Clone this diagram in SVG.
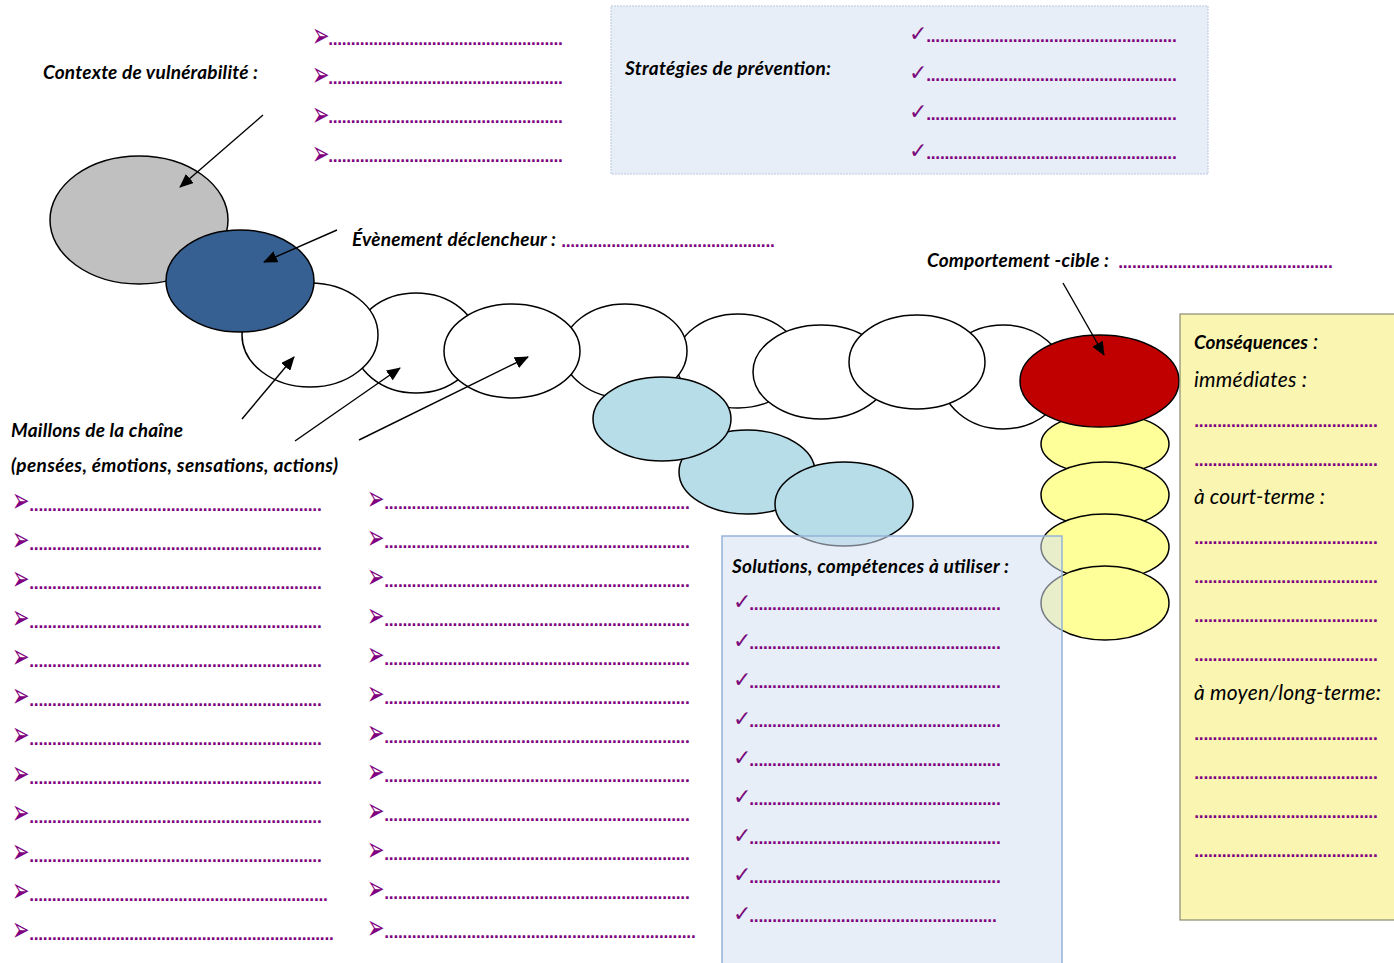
<svg xmlns="http://www.w3.org/2000/svg" width="1394" height="963" viewBox="0 0 1394 963">
  <style>
    .lbl { font-family: Lato, "Open Sans", "DejaVu Sans", sans-serif; font-weight: bold; font-style: italic; font-size: 19px; fill: #000; }
    .it { font-family: Lato, "Open Sans", "DejaVu Sans", sans-serif; font-style: italic; font-size: 21px; fill: #000; }
    .dots { font-family: "DejaVu Sans", sans-serif; font-weight: bold; font-size: 14px; fill: #800080; }
    .bul { font-family: "DejaVu Sans", sans-serif; font-size: 19px; fill: #800080; }
    .chk { font-family: "DejaVu Sans", sans-serif; font-size: 22px; fill: #7a0a7a; }
    .ring { stroke: #000; stroke-width: 1.5; }
    .white { fill: #fff; }
    .lightblue { fill: #b7dde8; }
    .yellow { fill: #ffff99; }
    .arrow { stroke: #000; stroke-width: 1.4; fill: none; marker-end: url(#head); }
  </style>
  <defs>
    <marker id="head" markerUnits="userSpaceOnUse" markerWidth="14" markerHeight="12" refX="13" refY="6" orient="auto">
      <path d="M0,0 L14,6 L0,12 z" fill="#000"/>
    </marker>
  </defs>

  <rect width="1394" height="963" fill="#fff"/>

  <!-- prevention strategies panel -->
  <g id="strategies">
    <rect x="611" y="6" width="597" height="168" fill="#e8eef7" stroke="#b8c7dd" stroke-width="1" stroke-dasharray="2 1"/>
    <text class="lbl" x="625" y="75" textLength="206" lengthAdjust="spacing">Stratégies de prévention:</text>
    <text class="chk" x="909" y="41">✓</text>
    <text class="dots" x="926" y="42" textLength="251" lengthAdjust="spacing">.......................................................</text>
    <text class="chk" x="909" y="80">✓</text>
    <text class="dots" x="926" y="81" textLength="251" lengthAdjust="spacing">.......................................................</text>
    <text class="chk" x="909" y="119">✓</text>
    <text class="dots" x="926" y="120" textLength="251" lengthAdjust="spacing">.......................................................</text>
    <text class="chk" x="909" y="158">✓</text>
    <text class="dots" x="926" y="159" textLength="251" lengthAdjust="spacing">.......................................................</text>
  </g>

  <!-- vulnerability context; bullets are stretched vertically around their centre -->
  <g id="context">
    <text class="lbl" x="43" y="79" textLength="215" lengthAdjust="spacing">Contexte de vulnérabilité :</text>
    <text class="bul" transform="translate(312,38) scale(1.1,1.8)" y="4.75">➢</text>
    <text class="dots" x="328" y="45" textLength="235" lengthAdjust="spacing">....................................................</text>
    <text class="bul" transform="translate(312,77) scale(1.1,1.8)" y="4.75">➢</text>
    <text class="dots" x="328" y="84" textLength="235" lengthAdjust="spacing">....................................................</text>
    <text class="bul" transform="translate(312,117) scale(1.1,1.8)" y="4.75">➢</text>
    <text class="dots" x="328" y="123" textLength="235" lengthAdjust="spacing">....................................................</text>
    <text class="bul" transform="translate(312,156) scale(1.1,1.8)" y="4.75">➢</text>
    <text class="dots" x="328" y="162" textLength="235" lengthAdjust="spacing">....................................................</text>
  </g>

  <g id="trigger-label">
    <text class="lbl" x="352" y="246" textLength="204" lengthAdjust="spacing">Évènement déclencheur :</text>
    <text class="dots" x="561" y="247" textLength="214" lengthAdjust="spacing">...............................................</text>
  </g>

  <g id="target-label">
    <text class="lbl" x="927" y="267" textLength="182" lengthAdjust="spacing">Comportement -cible :</text>
    <text class="dots" x="1118" y="268" textLength="215" lengthAdjust="spacing">...............................................</text>
  </g>

  <!-- chain of ellipses, back to front -->
  <g id="vulnerability-node"><ellipse class="ring" cx="139" cy="220" rx="89" ry="64" fill="#c0c0c0"/></g>
  <g id="link-8"><ellipse class="ring white" cx="1003" cy="377" rx="62" ry="52"/></g>
  <g id="link-5"><ellipse class="ring white" cx="738" cy="361" rx="62" ry="47"/></g>
  <g id="link-2"><ellipse class="ring white" cx="416" cy="343" rx="62" ry="50"/></g>
  <g id="link-4"><ellipse class="ring white" cx="625" cy="351" rx="62" ry="47"/></g>
  <g id="link-6"><ellipse class="ring white" cx="821" cy="372" rx="68" ry="47"/></g>
  <g id="link-7"><ellipse class="ring white" cx="917" cy="362" rx="68" ry="47"/></g>
  <g id="link-3"><ellipse class="ring white" cx="512" cy="351" rx="68" ry="47"/></g>
  <g id="link-1"><ellipse class="ring white" cx="310" cy="335" rx="68" ry="52"/></g>
  <g id="trigger-node"><ellipse class="ring" cx="240" cy="281" rx="74" ry="51" fill="#376092"/></g>

  <g id="solution-2"><ellipse class="ring lightblue" cx="747" cy="472" rx="68" ry="42"/></g>
  <g id="solution-1"><ellipse class="ring lightblue" cx="662" cy="419" rx="69" ry="42"/></g>
  <g id="solution-3"><ellipse class="ring lightblue" cx="844" cy="504" rx="69" ry="42"/></g>

  <g id="consequence-1"><ellipse class="ring yellow" cx="1105" cy="444" rx="64" ry="31"/></g>
  <g id="consequence-2"><ellipse class="ring yellow" cx="1105" cy="495" rx="64" ry="33"/></g>
  <g id="consequence-3"><ellipse class="ring yellow" cx="1105" cy="547" rx="64" ry="33"/></g>
  <g id="consequence-4"><ellipse class="ring yellow" cx="1105" cy="603" rx="64" ry="37"/></g>
  <g id="target-node"><ellipse class="ring" cx="1099.5" cy="381" rx="79.5" ry="46" fill="#c00000"/></g>

  <!-- chain links label and answer lines -->
  <g id="links-label">
    <text class="lbl" x="11" y="437" textLength="172" lengthAdjust="spacing">Maillons de la chaîne</text>
    <text class="lbl" x="11" y="472" textLength="327" lengthAdjust="spacing">(pensées, émotions, sensations, actions)</text>
  </g>
  <g id="links-left">
    <text class="bul" transform="translate(12,503) scale(1.1,1.8)" y="4.75">➢</text><text class="dots" x="29" y="511" textLength="293" lengthAdjust="spacing">................................................................</text>
    <text class="bul" transform="translate(12,542) scale(1.1,1.8)" y="4.75">➢</text><text class="dots" x="29" y="550" textLength="293" lengthAdjust="spacing">................................................................</text>
    <text class="bul" transform="translate(12,581) scale(1.1,1.8)" y="4.75">➢</text><text class="dots" x="29" y="589" textLength="293" lengthAdjust="spacing">................................................................</text>
    <text class="bul" transform="translate(12,620) scale(1.1,1.8)" y="4.75">➢</text><text class="dots" x="29" y="628" textLength="293" lengthAdjust="spacing">................................................................</text>
    <text class="bul" transform="translate(12,659) scale(1.1,1.8)" y="4.75">➢</text><text class="dots" x="29" y="667" textLength="293" lengthAdjust="spacing">................................................................</text>
    <text class="bul" transform="translate(12,698) scale(1.1,1.8)" y="4.75">➢</text><text class="dots" x="29" y="706" textLength="293" lengthAdjust="spacing">................................................................</text>
    <text class="bul" transform="translate(12,737) scale(1.1,1.8)" y="4.75">➢</text><text class="dots" x="29" y="745" textLength="293" lengthAdjust="spacing">................................................................</text>
    <text class="bul" transform="translate(12,776) scale(1.1,1.8)" y="4.75">➢</text><text class="dots" x="29" y="784" textLength="293" lengthAdjust="spacing">................................................................</text>
    <text class="bul" transform="translate(12,815) scale(1.1,1.8)" y="4.75">➢</text><text class="dots" x="29" y="823" textLength="293" lengthAdjust="spacing">................................................................</text>
    <text class="bul" transform="translate(12,854) scale(1.1,1.8)" y="4.75">➢</text><text class="dots" x="29" y="862" textLength="293" lengthAdjust="spacing">................................................................</text>
    <text class="bul" transform="translate(12,893) scale(1.1,1.8)" y="4.75">➢</text><text class="dots" x="29" y="901" textLength="299" lengthAdjust="spacing">..................................................................</text>
    <text class="bul" transform="translate(12,932) scale(1.1,1.8)" y="4.75">➢</text><text class="dots" x="29" y="940" textLength="305" lengthAdjust="spacing">...................................................................</text>
  </g>
  <g id="links-right">
    <text class="bul" transform="translate(367,501) scale(1.1,1.8)" y="4.75">➢</text><text class="dots" x="384" y="509" textLength="306" lengthAdjust="spacing">...................................................................</text>
    <text class="bul" transform="translate(367,540) scale(1.1,1.8)" y="4.75">➢</text><text class="dots" x="384" y="548" textLength="306" lengthAdjust="spacing">...................................................................</text>
    <text class="bul" transform="translate(367,579) scale(1.1,1.8)" y="4.75">➢</text><text class="dots" x="384" y="587" textLength="306" lengthAdjust="spacing">...................................................................</text>
    <text class="bul" transform="translate(367,618) scale(1.1,1.8)" y="4.75">➢</text><text class="dots" x="384" y="626" textLength="306" lengthAdjust="spacing">...................................................................</text>
    <text class="bul" transform="translate(367,657) scale(1.1,1.8)" y="4.75">➢</text><text class="dots" x="384" y="665" textLength="306" lengthAdjust="spacing">...................................................................</text>
    <text class="bul" transform="translate(367,696) scale(1.1,1.8)" y="4.75">➢</text><text class="dots" x="384" y="704" textLength="306" lengthAdjust="spacing">...................................................................</text>
    <text class="bul" transform="translate(367,735) scale(1.1,1.8)" y="4.75">➢</text><text class="dots" x="384" y="743" textLength="306" lengthAdjust="spacing">...................................................................</text>
    <text class="bul" transform="translate(367,774) scale(1.1,1.8)" y="4.75">➢</text><text class="dots" x="384" y="782" textLength="306" lengthAdjust="spacing">...................................................................</text>
    <text class="bul" transform="translate(367,813) scale(1.1,1.8)" y="4.75">➢</text><text class="dots" x="384" y="821" textLength="306" lengthAdjust="spacing">...................................................................</text>
    <text class="bul" transform="translate(367,852) scale(1.1,1.8)" y="4.75">➢</text><text class="dots" x="384" y="860" textLength="306" lengthAdjust="spacing">...................................................................</text>
    <text class="bul" transform="translate(367,891) scale(1.1,1.8)" y="4.75">➢</text><text class="dots" x="384" y="899" textLength="306" lengthAdjust="spacing">...................................................................</text>
    <text class="bul" transform="translate(367,930) scale(1.1,1.8)" y="4.75">➢</text><text class="dots" x="384" y="938" textLength="312" lengthAdjust="spacing">....................................................................</text>
  </g>

  <!-- solutions panel, translucent over the yellow stack -->
  <g id="solutions">
    <rect x="722" y="536" width="340" height="440" fill="#d4e0f0" fill-opacity="0.55" stroke="#95b3d7" stroke-width="1.5"/>
    <text class="lbl" x="732" y="573" textLength="277" lengthAdjust="spacing">Solutions, compétences à utiliser :</text>
    <text class="chk" x="733" y="609">✓</text><text class="dots" x="749" y="610" textLength="252" lengthAdjust="spacing">.......................................................</text>
    <text class="chk" x="733" y="648">✓</text><text class="dots" x="749" y="649" textLength="252" lengthAdjust="spacing">.......................................................</text>
    <text class="chk" x="733" y="687">✓</text><text class="dots" x="749" y="688" textLength="252" lengthAdjust="spacing">.......................................................</text>
    <text class="chk" x="733" y="726">✓</text><text class="dots" x="749" y="727" textLength="252" lengthAdjust="spacing">.......................................................</text>
    <text class="chk" x="733" y="765">✓</text><text class="dots" x="749" y="766" textLength="252" lengthAdjust="spacing">.......................................................</text>
    <text class="chk" x="733" y="804">✓</text><text class="dots" x="749" y="805" textLength="252" lengthAdjust="spacing">.......................................................</text>
    <text class="chk" x="733" y="843">✓</text><text class="dots" x="749" y="844" textLength="252" lengthAdjust="spacing">.......................................................</text>
    <text class="chk" x="733" y="882">✓</text><text class="dots" x="749" y="883" textLength="252" lengthAdjust="spacing">.......................................................</text>
    <text class="chk" x="733" y="921">✓</text><text class="dots" x="749" y="922" textLength="248" lengthAdjust="spacing">......................................................</text>
  </g>

  <!-- consequences panel -->
  <g id="consequences">
    <rect x="1180" y="314" width="220" height="606" fill="#fbf5b2" stroke="#8a8a70" stroke-width="1.2"/>
    <text x="1194" y="349"><tspan class="lbl" textLength="114" lengthAdjust="spacing">Conséquences</tspan><tspan class="it" font-size="19px"> :</tspan></text>
    <text class="it" x="1194" y="387" textLength="113" lengthAdjust="spacing">immédiates :</text>
    <text class="dots" x="1194" y="427" textLength="184" lengthAdjust="spacing">........................................</text>
    <text class="dots" x="1194" y="466" textLength="184" lengthAdjust="spacing">........................................</text>
    <text class="it" x="1194" y="504" textLength="131" lengthAdjust="spacing">à court-terme :</text>
    <text class="dots" x="1194" y="544" textLength="184" lengthAdjust="spacing">........................................</text>
    <text class="dots" x="1194" y="583" textLength="184" lengthAdjust="spacing">........................................</text>
    <text class="dots" x="1194" y="622" textLength="184" lengthAdjust="spacing">........................................</text>
    <text class="dots" x="1194" y="661" textLength="184" lengthAdjust="spacing">........................................</text>
    <text class="it" x="1194" y="700" textLength="187" lengthAdjust="spacing">à moyen/long-terme:</text>
    <text class="dots" x="1194" y="740" textLength="184" lengthAdjust="spacing">........................................</text>
    <text class="dots" x="1194" y="779" textLength="184" lengthAdjust="spacing">........................................</text>
    <text class="dots" x="1194" y="818" textLength="184" lengthAdjust="spacing">........................................</text>
    <text class="dots" x="1194" y="857" textLength="184" lengthAdjust="spacing">........................................</text>
  </g>

  <!-- pointer arrows from labels to chain elements -->
  <g id="connectors">
    <line class="arrow" x1="263" y1="115" x2="180" y2="187"/>
    <line class="arrow" x1="337" y1="230" x2="264" y2="262"/>
    <line class="arrow" x1="242" y1="419" x2="294" y2="357"/>
    <line class="arrow" x1="295" y1="441" x2="400" y2="368"/>
    <line class="arrow" x1="359" y1="440" x2="528" y2="357"/>
    <line class="arrow" x1="1063" y1="283" x2="1104" y2="355"/>
  </g>
</svg>
